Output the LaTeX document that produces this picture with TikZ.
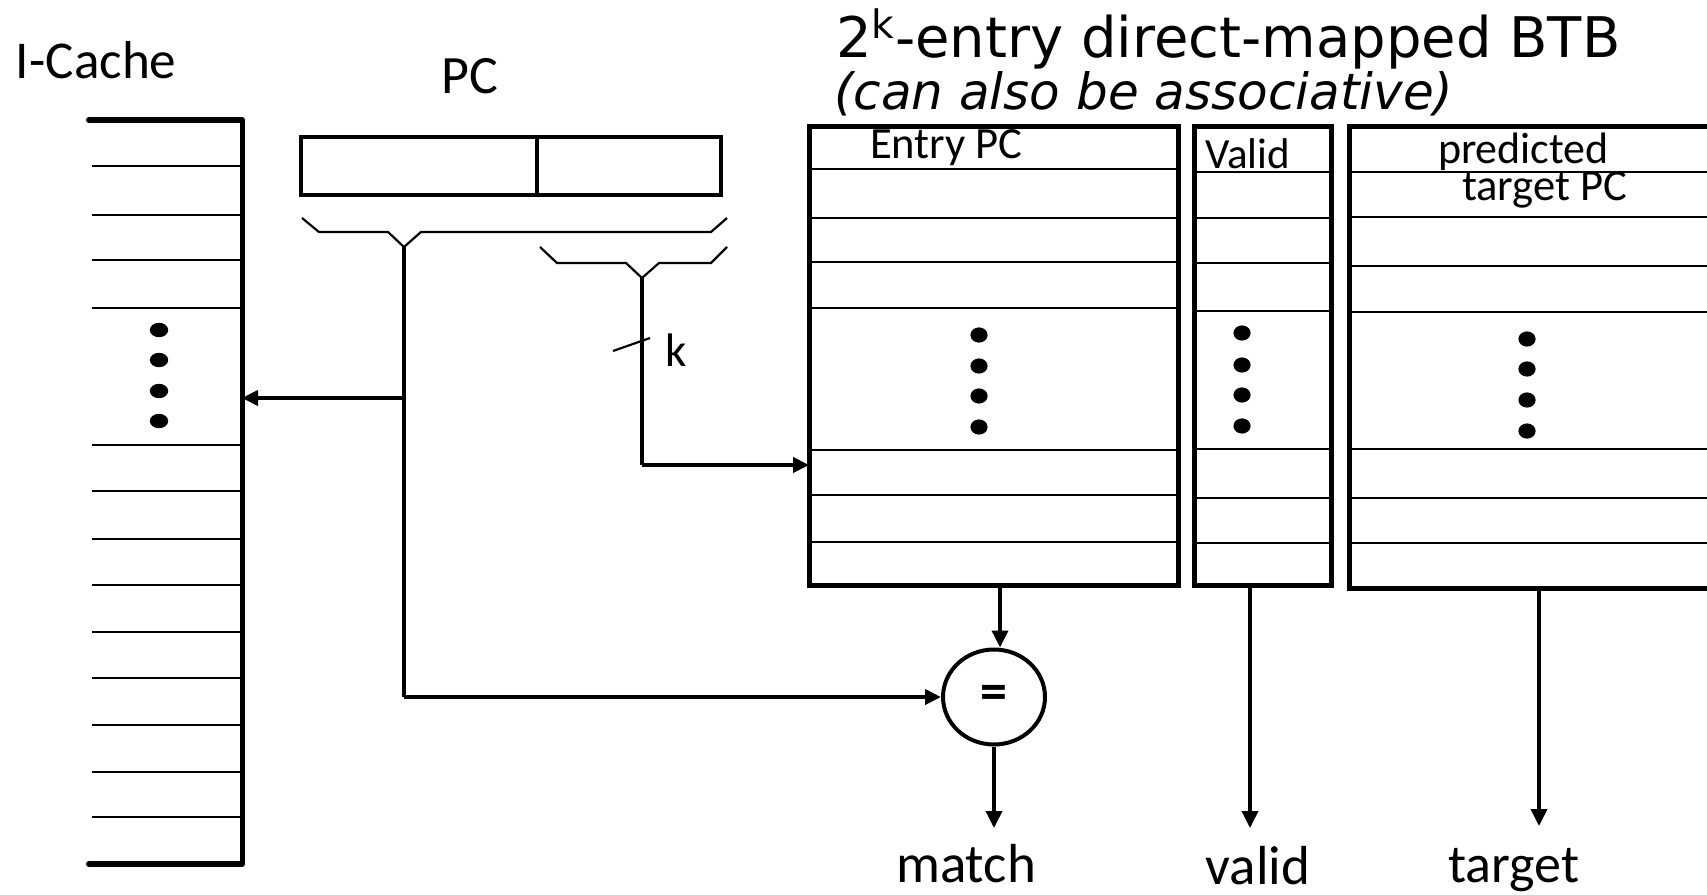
\documentclass[tikz,border=0pt]{standalone}
\usepackage{fontspec}
\setmainfont{Carlito}
\newfontfamily\dejavu{DejaVu Sans}
\usetikzlibrary{arrows.meta,shapes.geometric}
\begin{document}
\begin{tikzpicture}[x=0.5pt,y=-0.5pt,
  txt/.style={inner sep=0pt,outer sep=0pt},
  rowline/.style={line width=1.3pt},
  boxline/.style={line width=2.5pt},
  brace/.style={line width=1.1pt,line join=miter},
  sig/.style={line width=2.3pt},
  outarrow/.style={line width=1.8pt,-{Triangle[length=8.5pt,width=8pt]}},
  sigarrow/.style={sig,-{Triangle[length=8pt,width=7.5pt]}},
  dot/.style={fill=black}]
\useasboundingbox (0,0) rectangle (1707,894);

% ---------------- I-Cache ----------------
\node[txt,anchor=base west,font=\fontsize{26.6pt}{30pt}\selectfont] (icl) at (16,78) {I-Cache};
\coordinate (ictop) at (242,120);
\coordinate (icbot) at (242,864);
\draw[line width=2.5pt] (ictop) -- (icbot);
\draw[line width=3pt,line cap=round] (89,120) -- (ictop);
\draw[line width=3pt,line cap=round] (89,864) -- (icbot);
\foreach \y in {166,215,260,308,445,491,539,585,632,678,725,772,817}
  \draw[rowline] (92,\y) -- (242,\y);
\foreach \y in {330,360,391,421}
  \fill[dot] (159,\y) ellipse [x radius=4.6pt,y radius=3.6pt];

% ---------------- PC ----------------
\node[txt,anchor=base,font=\fontsize{27pt}{30pt}\selectfont] (pcl) at (470,93) {PC};
\draw[line width=2.2pt] (301,137) rectangle (721,195);
\draw[line width=2.2pt] (537,137) -- (537,195);
\draw[brace] (302,218) -- (319,232) -- (388,232) -- (404,247) -- (421,232) -- (711,232) -- (727,218);
\draw[brace] (540,247) -- (557,263) -- (626,263) -- (642,278) -- (659,263) -- (711,263) -- (727,247);
\coordinate (bigtip) at (404,247);
\coordinate (smalltip) at (642,278);
\coordinate (icin) at (242,398);
\coordinate (bigmid) at (404,398);
\coordinate (bigbot) at (404,697);
\coordinate (smallbot) at (642,465);
\coordinate (btbin) at (809,465);

% ---------------- BTB ----------------
\node[txt,anchor=base west,font=\dejavu\fontsize{28pt}{32pt}\selectfont] (title) at (836,57) {2\textsuperscript{k}-entry direct-mapped BTB};
\node[txt,anchor=base west,font=\dejavu\itshape\fontsize{25pt}{30pt}\selectfont] (subtitle) at (834,109) {(can also be associative)};

% Entry PC
\draw[boxline] (809,126) rectangle (1178,585);
\foreach \y in {169,218,262,308,450,495,542}
  \draw[rowline] (809,\y) -- (1178,\y);
\foreach \y in {335,366,396,427}
  \fill[dot] (979,\y) ellipse [x radius=4.3pt,y radius=3.8pt];
\node[txt,anchor=base west,font=\fontsize{22.3pt}{26pt}\selectfont] (epcl) at (870,158) {Entry PC};

% Valid
\draw[boxline] (1194,126) rectangle (1331,585);
\foreach \y in {172,218,263,311,449,498,543}
  \draw[rowline] (1194,\y) -- (1333,\y);
\foreach \y in {333,365,395,426}
  \fill[dot] (1242,\y) ellipse [x radius=4.3pt,y radius=3.8pt];
\node[txt,anchor=base west,font=\fontsize{21.5pt}{26pt}\selectfont] (vall) at (1205,168) {Valid};

% predicted target
\draw[boxline] (1715,126) -- (1349,126) -- (1349,588) -- (1715,588);
\foreach \y in {172,217,266,312,449,498,543}
  \draw[rowline] (1349,\y) -- (1715,\y);
\foreach \y in {339,369,400,431}
  \fill[dot] (1527,\y) ellipse [x radius=4.3pt,y radius=3.8pt];
\node[txt,anchor=base west,font=\fontsize{22pt}{26pt}\selectfont] (predl) at (1438,163) {predicted};
\node[txt,anchor=base west,font=\fontsize{22.3pt}{26pt}\selectfont] (tpcl) at (1462,200) {target PC};

% comparator
\node[draw,ellipse,line width=2pt,inner sep=0pt,minimum width=51pt,minimum height=47.5pt,
      font=\bfseries\fontsize{27pt}{30pt}\selectfont] (eq) at (994,697) {=};

% outputs
\coordinate (epcout) at (1000,585);
\coordinate (valout) at (1250,585);
\coordinate (tgtout) at (1539,588);
\coordinate (matchtip) at (994,828);
\coordinate (validtip) at (1250,828);
\coordinate (targettip) at (1539,826);
\node[txt,anchor=base,font=\fontsize{27.5pt}{30pt}\selectfont] (match) at (966,882) {match};
\node[txt,anchor=base,font=\fontsize{27.5pt}{30pt}\selectfont] (valid) at (1258,884) {valid};
\node[txt,anchor=base,font=\fontsize{27pt}{30pt}\selectfont] (target) at (1514,882) {target};

% ---------------- connectors ----------------
\draw[sig] (bigtip) -- (bigbot);
\draw[sigarrow] (bigmid) -- (icin);
\draw[sigarrow] (bigbot) -- (eq.west);
\draw[sig] (smalltip) -- (smallbot);
\draw[sigarrow] (smallbot) -- (btbin);
\draw[line width=1.1pt] (613,351) -- (650,338);
\node[txt,anchor=base west,font=\fontsize{23.5pt}{26pt}\selectfont] (kl) at (665,366) {k};

\draw[outarrow] (epcout) -- (epcout |- eq.north);
\draw[outarrow] (eq.south) -- (matchtip);
\draw[outarrow] (valout) -- (validtip);
\draw[outarrow] (tgtout) -- (targettip);
\end{tikzpicture}
\end{document}
